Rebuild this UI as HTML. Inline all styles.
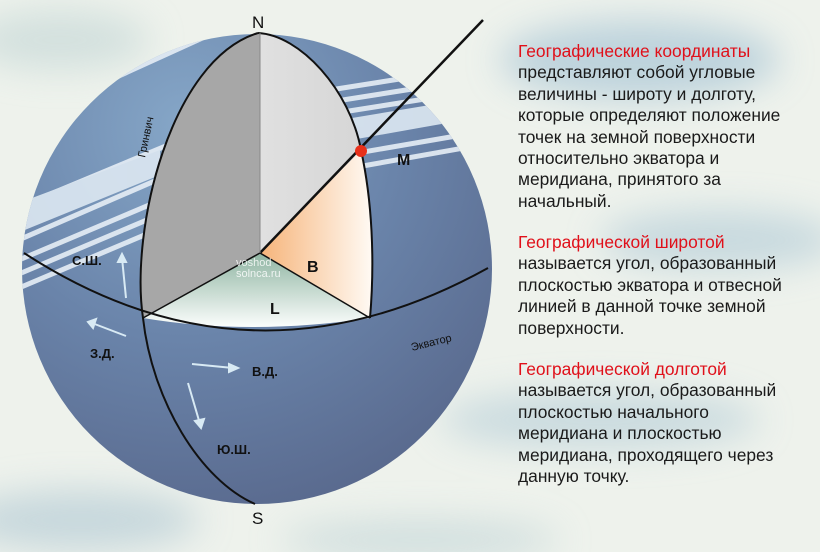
<!DOCTYPE html>
<html><head><meta charset="utf-8"><style>
body{margin:0;width:820px;height:552px;overflow:hidden;font-family:"Liberation Sans",sans-serif;}
#bg{position:absolute;left:0;top:0;width:820px;height:552px;background:#eef2ec;}
.t{position:absolute;left:518px;font-size:17.4px;line-height:21.4px;color:#1a1a1a;width:302px;white-space:nowrap;}
.r{color:#e0101a;}
</style></head><body>
<svg id="bg" width="820" height="552" viewBox="0 0 820 552">
<defs>
<filter id="bl" x="-50%" y="-50%" width="200%" height="200%"><feGaussianBlur stdDeviation="18"/></filter>
<radialGradient id="sg" cx="0.35" cy="0.2" r="0.9"><stop offset="0" stop-color="#86a7c8"/><stop offset="0.5" stop-color="#6a84aa"/><stop offset="1" stop-color="#57668a"/></radialGradient>
<linearGradient id="og" x1="0" y1="0" x2="1" y2="0"><stop offset="0" stop-color="#f6b47a"/><stop offset="1" stop-color="#fffaf4"/></linearGradient>
<linearGradient id="gg" x1="0" y1="0" x2="0" y2="1"><stop offset="0" stop-color="#8fb5a2"/><stop offset="1" stop-color="#fbfdfc"/></linearGradient>
<linearGradient id="lg" x1="0" y1="0" x2="1" y2="0"><stop offset="0" stop-color="#e0e0e0"/><stop offset="1" stop-color="#d6d6d6"/></linearGradient>
<clipPath id="cp"><circle cx="257" cy="269" r="235"/></clipPath>
</defs>
<g filter="url(#bl)" opacity="0.7">
<ellipse cx="640" cy="60" rx="140" ry="40" fill="#a9c6d6"/>
<ellipse cx="720" cy="240" rx="120" ry="30" fill="#b7cfd9"/>
<ellipse cx="600" cy="420" rx="160" ry="30" fill="#bcd2da"/>
<ellipse cx="80" cy="520" rx="120" ry="30" fill="#b6ccd6"/>
<ellipse cx="420" cy="540" rx="140" ry="20" fill="#c3d6d8"/>
<ellipse cx="60" cy="40" rx="90" ry="30" fill="#c7d9d8"/>
</g>
<circle cx="257" cy="269" r="235" fill="url(#sg)"/>
<g clip-path="url(#cp)" stroke="#e6eef6" fill="none" opacity="0.9">
<g stroke-width="5">
<line x1="0" y1="130" x2="220" y2="30"/><line x1="0" y1="120" x2="220" y2="20"/>
<line x1="0" y1="215" x2="180" y2="140"/><line x1="0" y1="230" x2="180" y2="155"/><line x1="0" y1="248" x2="180" y2="170"/>
<line x1="0" y1="268" x2="180" y2="192"/><line x1="0" y1="282" x2="180" y2="206"/><line x1="0" y1="296" x2="180" y2="220"/>
<line x1="330" y1="90" x2="520" y2="60"/><line x1="330" y1="102" x2="520" y2="72"/><line x1="330" y1="114" x2="520" y2="84"/>
<line x1="340" y1="130" x2="520" y2="100"/><line x1="340" y1="156" x2="520" y2="125"/><line x1="340" y1="170" x2="520" y2="138"/>
</g>
<path d="M0 210 L160 150 L160 175 L0 240Z" fill="#dde8f2" stroke="none"/>
<path d="M340 120 L520 90 L520 110 L340 142Z" fill="#dde8f2" stroke="none"/>
</g>
<path d="M258 33 C170 60 130 230 143 318 L260 253 L260 33Z" fill="#a7a7a7"/>
<path d="M260 33 L260 253 L361 150 C350 90 300 35 260 33Z" fill="url(#lg)"/>
<path d="M260 253 L361 150 C372 200 375 260 370 318Z" fill="url(#og)"/>
<path d="M260 253 L143 318 Q250 336 370 318Z" fill="url(#gg)"/>
<g fill="none" stroke="#111" stroke-width="2">
<path d="M24 253 Q250 400 488 268"/>
<path d="M258 33 C170 60 130 230 143 318 C152 400 200 480 255 504"/>
<path d="M258 33 C300 35 350 90 361 150 C372 200 375 260 370 318"/>
</g>
<g stroke="#111" stroke-width="1.5"><line x1="143" y1="318" x2="260" y2="253"/><line x1="260" y1="253" x2="370" y2="318"/></g>
<line x1="260" y1="253" x2="483" y2="20" stroke="#111" stroke-width="2.5"/>
<line x1="260" y1="33" x2="260" y2="253" stroke="#888" stroke-width="1"/>
<circle cx="361" cy="151" r="6" fill="#e8301a"/>
<g stroke="#d8eaf4" stroke-width="2" fill="#d8eaf4">
<line x1="126" y1="298" x2="122" y2="258"/><path d="M118 262 L122 254 L126 262Z"/>
<line x1="126" y1="336" x2="92" y2="323"/><path d="M96 319 L88 322 L93 328Z"/>
<line x1="192" y1="364" x2="233" y2="368"/><path d="M229 364 L238 368 L229 372Z"/>
<line x1="188" y1="383" x2="200" y2="424"/><path d="M195 421 L201 428 L204 419Z"/>
</g>
<g font-family="Liberation Sans,sans-serif" font-weight="bold" fill="#111">
<text x="252" y="28" font-size="17" font-weight="normal">N</text>
<text x="252" y="524" font-size="17" font-weight="normal">S</text>
<text x="397" y="165" font-size="16">M</text>
<text x="307" y="272" font-size="16">B</text>
<text x="270" y="314" font-size="16">L</text>
<text x="72" y="265" font-size="13">С.Ш.</text>
<text x="90" y="358" font-size="13">З.Д.</text>
<text x="252" y="376" font-size="13">В.Д.</text>
<text x="217" y="454" font-size="13">Ю.Ш.</text>
<text x="0" y="0" font-size="11" font-weight="normal" transform="translate(145,158) rotate(-78)">Гринвич</text>
<text x="0" y="0" font-size="11" font-weight="normal" transform="translate(412,351) rotate(-14)">Экватор</text>
</g>
<text x="236" y="266" font-size="11" fill="#fff" opacity="0.8" font-family="Liberation Sans,sans-serif">voshod</text>
<text x="236" y="277" font-size="11" fill="#fff" opacity="0.8" font-family="Liberation Sans,sans-serif">solnca.ru</text>
</svg>
<div class="t" style="top:41px"><span class="r">Географические координаты</span><br>представляют собой угловые<br>величины - широту и долготу,<br>которые определяют положение<br>точек на земной поверхности<br>относительно экватора и<br>меридиана, принятого за<br>начальный.</div>
<div class="t" style="top:232px"><span class="r">Географической широтой</span><br>называется угол, образованный<br>плоскостью экватора и отвесной<br>линией в данной точке земной<br>поверхности.</div>
<div class="t" style="top:359px"><span class="r">Географической долготой</span><br>называется угол, образованный<br>плоскостью начального<br>меридиана и плоскостью<br>меридиана, проходящего через<br>данную точку.</div>
</body></html>
